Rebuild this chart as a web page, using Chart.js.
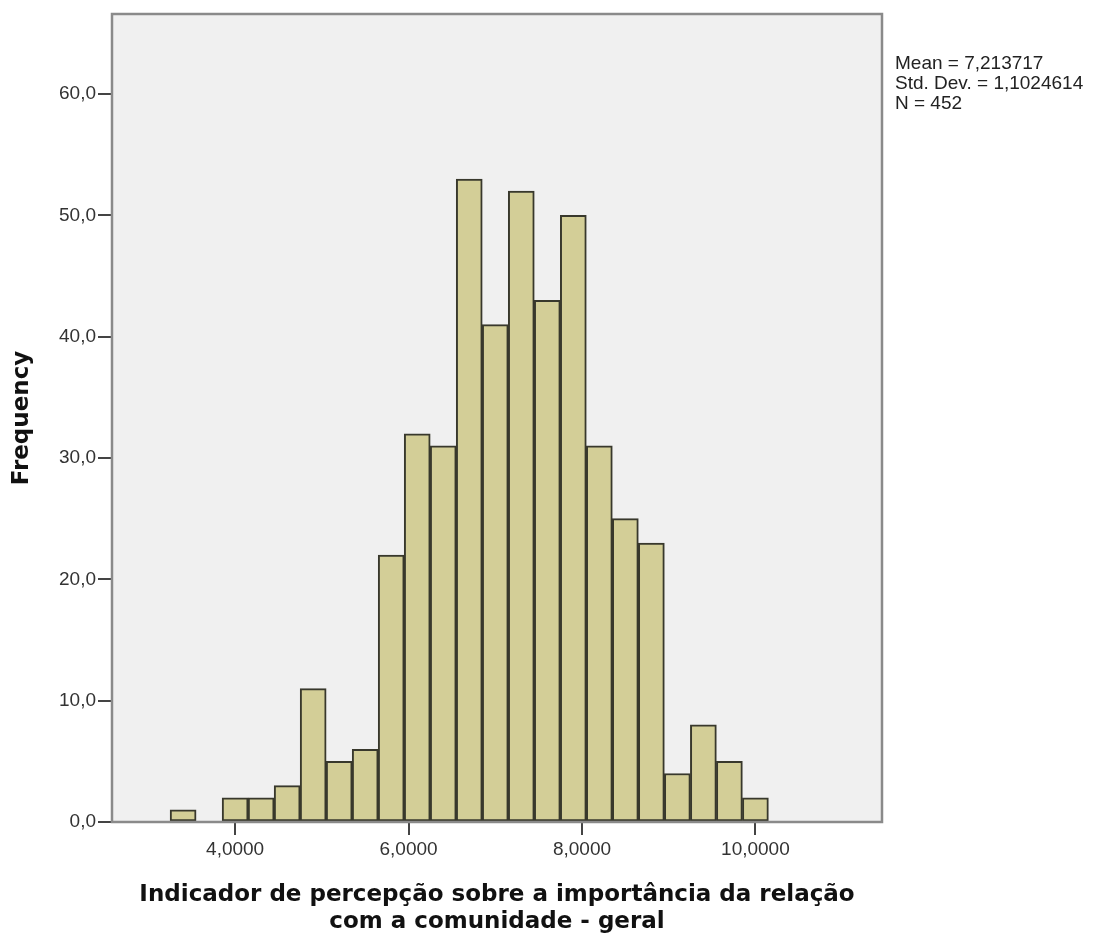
<!DOCTYPE html>
<html>
<head>
<meta charset="utf-8">
<script src="https://cdn.jsdelivr.net/npm/chart.js@4.4.1/dist/chart.umd.min.js"></script>
<style>
  html, body { margin: 0; padding: 0; background: #fff; }
  #wrap { width: 1102px; height: 936px; }
</style>
</head>
<body>
<div id="wrap"><canvas id="histChart"></canvas></div>
<script>
// bin centres (width 0.3) and frequencies
var binCenters = [3.4, 4.0, 4.3, 4.6, 4.9, 5.2, 5.5, 5.8, 6.1, 6.4, 6.7, 7.0, 7.3, 7.6, 7.9, 8.2, 8.5, 8.8, 9.1, 9.4, 9.7, 10.0];
var frequencies = [1, 2, 2, 3, 11, 5, 6, 22, 32, 31, 53, 41, 52, 43, 50, 31, 25, 23, 4, 8, 5, 2];
var xTicks = [4, 6, 8, 10];
var yTicks = [0, 10, 20, 30, 40, 50, 60];
var statLines = ['Mean = 7,213717', 'Std. Dev. = 1,1024614', 'N = 452'];

var points = binCenters.map(function (c, i) { return { x: c, y: frequencies[i] }; });

var plotFrame = {
  id: 'plotFrame',
  beforeDraw: function (chart) {
    var a = chart.chartArea, ctx = chart.ctx;
    ctx.save();
    ctx.fillStyle = '#f0f0f0';
    ctx.fillRect(a.left, a.top, a.right - a.left, a.bottom - a.top);
    ctx.restore();
  },
  afterDraw: function (chart) {
    var a = chart.chartArea, ctx = chart.ctx;
    ctx.save();
    ctx.strokeStyle = '#8a8a8a';
    ctx.lineWidth = 2.5;
    ctx.strokeRect(a.left, a.top, a.right - a.left, a.bottom - a.top);
    ctx.fillStyle = '#222';
    ctx.font = '19px "Liberation Sans", Arial, sans-serif';
    ctx.textBaseline = 'top';
    statLines.forEach(function (t, i) {
      ctx.fillText(t, a.right + 13, 54 + i * 20);
    });
    ctx.restore();
  }
};

var tickFont = { family: '"Liberation Sans", Arial, sans-serif', size: 19 };
var titleFont = { family: '"DejaVu Sans", Verdana, sans-serif', size: 23, weight: 'bold', lineHeight: 1.17 };

var histChart = new Chart(document.getElementById('histChart'), {
  type: 'bar',
  data: {
    datasets: [{
      data: points,
      backgroundColor: '#d3ce97',
      borderColor: '#38382c',
      borderWidth: 2,
      borderSkipped: false,
      barPercentage: 1.0,
      categoryPercentage: 1.0
    }]
  },
  options: {
    responsive: true,
    maintainAspectRatio: false,
    animation: false,
    layout: { padding: { top: 14, right: 220, left: 0, bottom: 0 } },
    plugins: { legend: { display: false }, tooltip: { enabled: false } },
    scales: {
      x: {
        type: 'linear',
        offset: false,
        min: 2.58,
        max: 11.46,
        afterFit: function (s) { s.height = 114; },
        afterBuildTicks: function (s) { s.ticks = xTicks.map(function (v) { return { value: v }; }); },
        grid: { offset: false, drawOnChartArea: false, drawTicks: true, tickLength: 13, color: '#444', lineWidth: 2 },
        border: { display: false },
        ticks: {
          color: '#333',
          font: tickFont,
          padding: 3,
          maxRotation: 0,
          callback: function (v) { return v.toFixed(4).replace('.', ','); }
        },
        title: {
          display: true,
          text: ['Indicador de percepção sobre a importância da relação', 'com a comunidade - geral'],
          color: '#111',
          font: titleFont,
          padding: { top: 10, bottom: 1 }
        }
      },
      y: {
        min: 0,
        max: 66.6,
        afterFit: function (s) { s.width = 112; },
        afterBuildTicks: function (s) { s.ticks = yTicks.map(function (v) { return { value: v }; }); },
        grid: { drawOnChartArea: false, drawTicks: true, tickLength: 14, color: '#444', lineWidth: 2 },
        border: { display: false },
        ticks: {
          color: '#333',
          font: tickFont,
          padding: 2,
          callback: function (v) { return v.toFixed(1).replace('.', ','); }
        },
        title: {
          display: true,
          text: 'Frequency',
          color: '#111',
          font: titleFont,
          padding: { top: 9, bottom: 0 }
        }
      }
    }
  },
  plugins: [plotFrame]
});
</script>
</body>
</html>
